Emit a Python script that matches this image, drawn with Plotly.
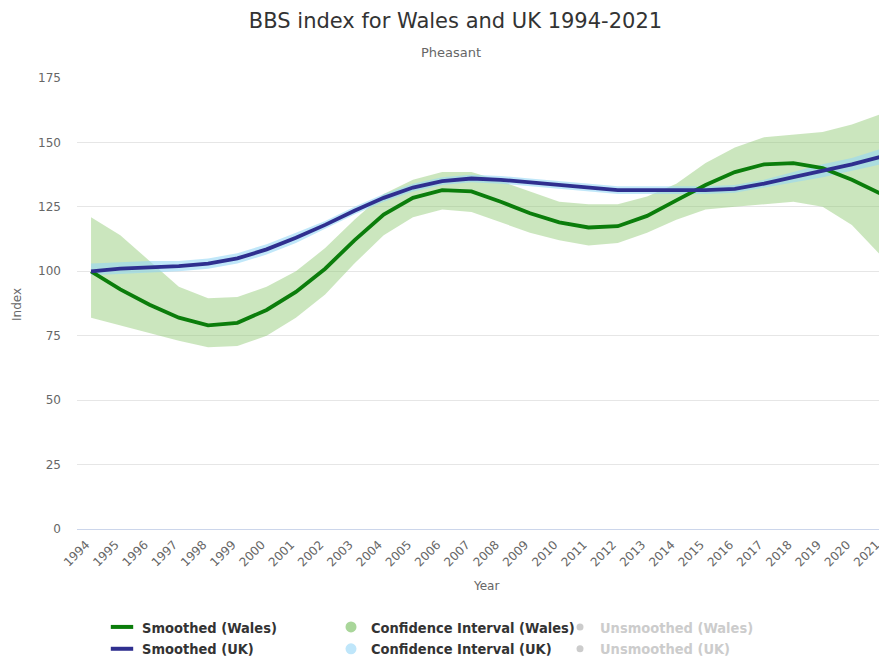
import plotly.graph_objects as go

years = list(range(1994, 2022))

wales_smoothed = [100, 93, 87, 82, 79, 80, 85, 92, 101, 112, 122, 128.5, 131.5, 131, 127,
                  122.5, 119, 117, 117.5, 121.5, 127.5, 133.5, 138.5, 141.5, 142, 140, 135.5, 130]
wales_ci_low = [82, 79, 76, 73, 70.5, 71, 75, 82, 91, 103, 114, 121, 124, 123, 119,
                115, 112, 110, 111, 115, 120, 124, 125, 126, 127, 125, 118, 106]
wales_ci_high = [121, 114, 104, 94, 89.5, 90, 94, 100, 109, 120, 130, 135.5, 138.5, 138.5, 135,
                 131, 127, 126, 126, 129, 134, 142, 148, 152, 153, 154, 157, 161]

uk_smoothed = [100, 101, 101.5, 102, 103, 105, 108.5, 113, 118, 123.5, 128.5, 132.5, 135, 136, 135.5,
               134.5, 133.5, 132.5, 131.5, 131.5, 131.5, 131.5, 132, 134, 136.5, 139, 141.5, 144.5]
uk_ci_low = [98.5, 99, 99.5, 100, 101, 103, 106.5, 111, 116.5, 122, 127, 131, 133.5, 134.5, 134,
             133, 132, 131, 130, 130, 130, 130, 130.5, 132.5, 134.5, 136.5, 139, 141.5]
uk_ci_high = [103, 103.5, 104, 104, 105, 107, 110.5, 115, 119.5, 125, 130, 134, 136.5, 137.5, 137,
              136, 135, 134, 133, 133, 133, 133, 133.5, 135.5, 138.5, 141.5, 144, 147.5]

y_ticks = [0, 25, 50, 75, 100, 125, 150, 175]

GREEN = "#0b7d0b"
NAVY = "#2f2f8f"
GREEN_FILL = "rgba(140,200,110,0.45)"
BLUE_FILL = "rgba(150,215,245,0.6)"
COND = "DejaVu Sans Condensed, Liberation Sans Narrow, sans-serif"
SANS = "DejaVu Sans, sans-serif"

# figure is offset by the page's 8px body margin
W, H = 879, 651
L, R, T, B = 69, 0, 70, 130
PW, PH = W - L - R, H - T - B


def px(xp):
    return (xp - L) / PW


def py(yp):
    return (H - B - yp) / PH


fig = go.Figure()

# Wales CI band
fig.add_trace(go.Scatter(x=years, y=wales_ci_low, mode="lines", line=dict(width=0),
                         showlegend=False, hoverinfo="skip"))
fig.add_trace(go.Scatter(x=years, y=wales_ci_high, mode="lines", line=dict(width=0),
                         fill="tonexty", fillcolor=GREEN_FILL, showlegend=False, hoverinfo="skip"))
# UK CI band
fig.add_trace(go.Scatter(x=years, y=uk_ci_low, mode="lines", line=dict(width=0),
                         showlegend=False, hoverinfo="skip"))
fig.add_trace(go.Scatter(x=years, y=uk_ci_high, mode="lines", line=dict(width=0),
                         fill="tonexty", fillcolor=BLUE_FILL, showlegend=False, hoverinfo="skip"))

# Smoothed lines
fig.add_trace(go.Scatter(x=years, y=wales_smoothed, mode="lines", name="Smoothed (Wales)",
                         line=dict(color=GREEN, width=3.8), showlegend=False))
fig.add_trace(go.Scatter(x=years, y=uk_smoothed, mode="lines", name="Smoothed (UK)",
                         line=dict(color=NAVY, width=3.8), showlegend=False))

# Legend entries
fig.add_trace(go.Scatter(x=[None], y=[None], mode="markers", name="Smoothed (Wales)",
                         marker=dict(symbol="line-ew", size=18, line=dict(color=GREEN, width=4)),
                         legendrank=1))
fig.add_trace(go.Scatter(x=[None], y=[None], mode="markers", name="Confidence Interval (Wales)",
                         marker=dict(color="#a9d69a", size=11), legendrank=2))
fig.add_trace(go.Scatter(x=[None], y=[None], mode="markers",
                         name="<span style='color:#cccccc'>Unsmoothed (Wales)</span>",
                         marker=dict(color="#cccccc", size=7), legendrank=3))
fig.add_trace(go.Scatter(x=[None], y=[None], mode="markers", name="Smoothed (UK)",
                         marker=dict(symbol="line-ew", size=18, line=dict(color=NAVY, width=4)),
                         legendrank=4))
fig.add_trace(go.Scatter(x=[None], y=[None], mode="markers", name="Confidence Interval (UK)",
                         marker=dict(color="#bfe6fa", size=11), legendrank=5))
fig.add_trace(go.Scatter(x=[None], y=[None], mode="markers",
                         name="<span style='color:#cccccc'>Unsmoothed (UK)</span>",
                         marker=dict(color="#cccccc", size=7), legendrank=6))

fig.update_layout(
    width=W, height=H,
    margin=dict(l=L, r=R, t=T, b=B),
    paper_bgcolor="white", plot_bgcolor="white",
    font=dict(family=SANS, color="#666666", size=12),
    title=dict(text="BBS index for Wales and UK 1994-2021", x=447.5 / W, xref="container",
               y=1 - 13 / H, yref="container", xanchor="center", yanchor="middle",
               font=dict(family=SANS, size=21, color="#333333")),
    showlegend=True,
    legend=dict(orientation="h", xref="container", yref="container",
                x=94 / W, y=1 - 603 / H, xanchor="left", yanchor="top",
                entrywidth=184, entrywidthmode="pixels",
                font=dict(family=COND, size=14.5, color="#333333", weight="bold"),
                traceorder="normal", itemclick=False, itemdoubleclick=False),
    xaxis=dict(range=[1993.52, 2021.2], tickmode="array", tickvals=years,
               ticktext=[str(y) for y in years], tickangle=-45, ticklabeloverflow="allow",
               ticklabelshift=-5, ticklabelstandoff=3,
               tickfont=dict(family=SANS, size=12, color="#666666"), showgrid=False,
               zeroline=False, showline=True, linecolor="#ccd6eb", linewidth=1, ticks="",
               fixedrange=True),
    yaxis=dict(range=[0, 175], tickmode="array", tickvals=y_ticks, showgrid=True,
               gridcolor="#e6e6e6", gridwidth=1, zeroline=False, ticks="",
               tickfont=dict(family=SANS, size=12, color="#666666"), ticklabelstandoff=15,
               fixedrange=True),
    annotations=[
        dict(text="Pheasant", x=px(443), xref="paper", y=py(44), yref="paper",
             showarrow=False, xanchor="center", yanchor="middle",
             font=dict(family=SANS, size=13, color="#666666")),
        dict(text="Year", x=px(478), xref="paper", y=py(578), yref="paper",
             showarrow=False, xanchor="center", yanchor="middle",
             font=dict(family=SANS, size=12, color="#666666")),
        dict(text="Index", x=px(9), xref="paper", y=py(297), yref="paper",
             showarrow=False, xanchor="center", yanchor="middle", textangle=-90,
             font=dict(family=SANS, size=12, color="#666666")),
    ],
)

fig.write_html("out.html")
